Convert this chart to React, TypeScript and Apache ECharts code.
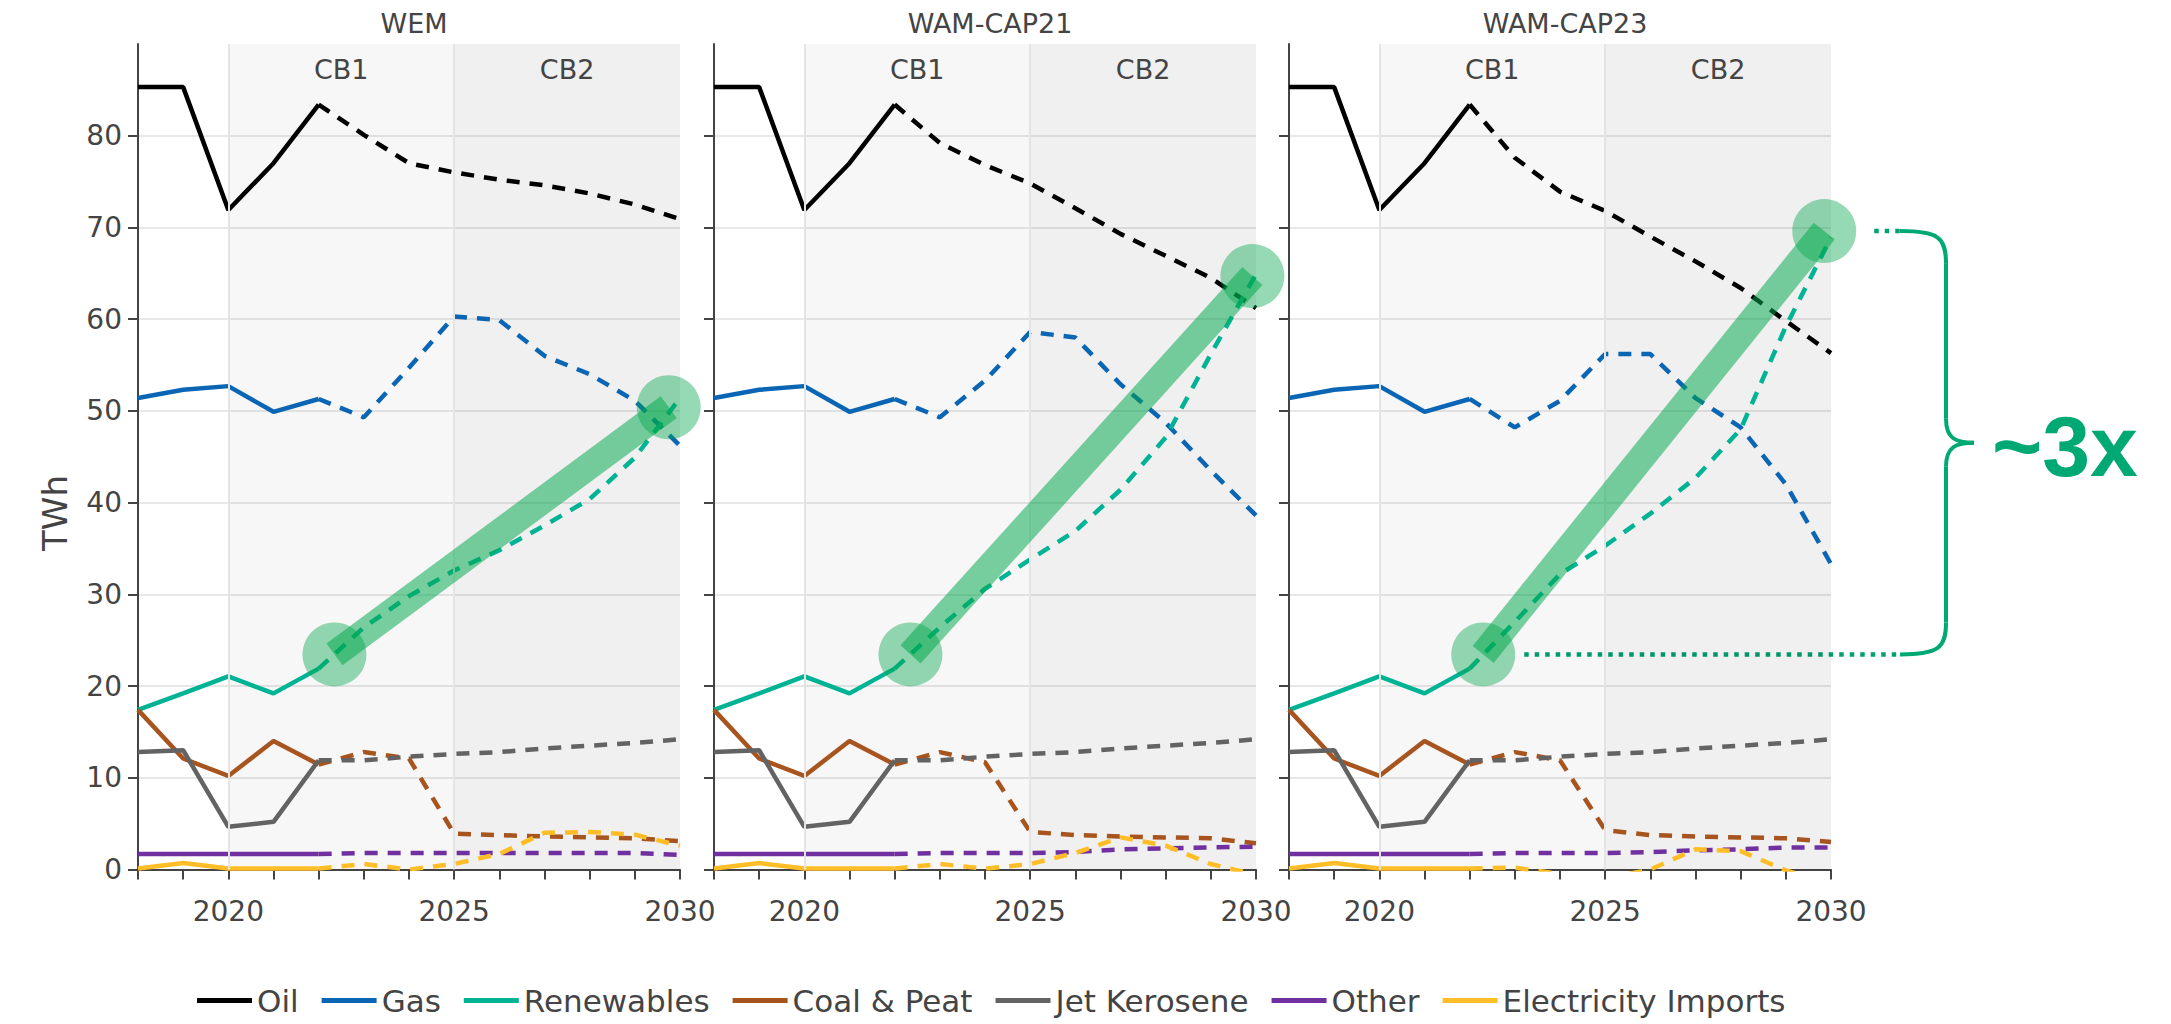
import React, { useEffect, useRef } from 'react';
import * as echarts from 'echarts';

// ---------- DATA ----------
const panelTitles = ['WEM', 'WAM-CAP21', 'WAM-CAP23'];
const fuels = ['Oil', 'Gas', 'Renewables', 'Coal & Peat', 'Jet Kerosene', 'Other', 'Electricity Imports'];
const fuelColors = ['#000000', '#0a66b4', '#00b394', '#a8541f', '#636363', '#7030a0', '#ffbe28'];

const histYears = [2018, 2019, 2020, 2021, 2022];
const projYears = [2022, 2023, 2024, 2025, 2026, 2027, 2028, 2029, 2030];

// historical (identical in all scenarios)
const oilHist = [85.3, 85.3, 71.9, 77.0, 83.4];
const gasHist = [51.4, 52.3, 52.7, 49.9, 51.3];
const renewablesHist = [17.4, 19.2, 21.05, 19.2, 21.9];
const coalHist = [17.4, 12.1, 10.2, 14.0, 11.45];
const jetHist = [12.8, 13.0, 4.65, 5.2, 11.9];
const otherHist = [1.7, 1.7, 1.7, 1.7, 1.7];
const importsHist = [0.1, 0.7, 0.1, 0.1, 0.1];

// projections 2022..2030 — WEM
const oilWEM = [83.4, 80.1, 77.0, 76.0, 75.2, 74.6, 73.7, 72.5, 70.9];
const gasWEM = [51.3, 49.3, 54.7, 60.3, 59.9, 56.0, 54.0, 51.1, 46.2];
const renewablesWEM = [21.9, 26.4, 29.8, 32.6, 34.8, 37.5, 40.4, 44.9, 51.4];
const coalWEM = [11.45, 12.8, 12.1, 3.9, 3.75, 3.6, 3.5, 3.4, 3.1];
const jetWEM = [11.9, 11.9, 12.3, 12.6, 12.8, 13.2, 13.5, 13.8, 14.2];
const otherWEM = [1.7, 1.8, 1.8, 1.8, 1.8, 1.8, 1.8, 1.8, 1.6];
const importsWEM = [0.1, 0.6, 0.0, 0.6, 1.7, 4.0, 4.1, 3.8, 2.6];

// projections — WAM-CAP21
const oilCAP21 = [83.4, 79.2, 76.8, 74.8, 72.1, 69.3, 66.9, 64.5, 61.2];
const gasCAP21 = [51.3, 49.3, 53.3, 58.6, 58.0, 52.9, 48.7, 43.5, 38.6];
const renewablesCAP21 = [21.9, 26.4, 30.6, 33.8, 36.9, 41.4, 47.1, 56.2, 64.9];
const coalCAP21 = [11.45, 12.8, 11.7, 4.1, 3.75, 3.6, 3.5, 3.4, 2.85];
const jetCAP21 = [11.9, 11.9, 12.3, 12.6, 12.8, 13.2, 13.5, 13.8, 14.2];
const otherCAP21 = [1.7, 1.8, 1.8, 1.8, 1.9, 2.2, 2.3, 2.4, 2.5];
const importsCAP21 = [0.1, 0.6, 0.1, 0.6, 1.8, 3.5, 2.6, 0.6, -0.6];

// projections — WAM-CAP23
const oilCAP23 = [83.4, 77.6, 73.9, 71.8, 69.0, 66.3, 63.4, 59.8, 56.3];
const gasCAP23 = [51.3, 48.2, 51.1, 56.2, 56.2, 51.4, 48.2, 42.0, 33.3];
const renewablesCAP23 = [21.9, 27.0, 32.2, 35.3, 38.8, 42.7, 48.0, 59.2, 68.9];
const coalCAP23 = [11.45, 12.8, 11.9, 4.3, 3.75, 3.6, 3.5, 3.4, 3.0];
const jetCAP23 = [11.9, 11.9, 12.3, 12.6, 12.8, 13.2, 13.5, 13.8, 14.2];
const otherCAP23 = [1.7, 1.8, 1.8, 1.8, 1.9, 2.1, 2.2, 2.4, 2.4];
const importsCAP23 = [0.1, 0.2, -0.5, -1.0, 0.0, 2.2, 2.0, -0.1, -1.5];

// carbon budget periods
const budgetNames = ['CB1', 'CB2'];
const budgetStart = [2020, 2025];
const budgetEnd = [2025, 2030];

// highlighted renewables growth (circle centres)
const highlightStartX = [2022.35, 2022.35, 2022.3];
const highlightStartY = [23.45, 23.45, 23.45];
const highlightEndX = [2029.75, 2029.92, 2029.85];
const highlightEndY = [50.4, 64.7, 69.6];
const growthLabel = '~3x';
const yAxisTitle = 'TWh';

const xLabelYears = [2020, 2025, 2030];
const yTickValues = [0, 10, 20, 30, 40, 50, 60, 70, 80];

// ---------- LAYOUT / STYLE ----------
const FONT = '"DejaVu Sans", Verdana, sans-serif';
const TEXT = '#444444';
const gridLefts = [138, 714, 1289];
const gridWidth = 542;
const gridTop = 44;
const gridBottom = 154.5;
const hlColor = 'rgba(0,167,75,0.52)';
const annotColor = '#00a874';
const LINE_W = 4.5;

const histData = [oilHist, gasHist, renewablesHist, coalHist, jetHist, otherHist, importsHist];
const projData = [
  [oilWEM, gasWEM, renewablesWEM, coalWEM, jetWEM, otherWEM, importsWEM],
  [oilCAP21, gasCAP21, renewablesCAP21, coalCAP21, jetCAP21, otherCAP21, importsCAP21],
  [oilCAP23, gasCAP23, renewablesCAP23, coalCAP23, jetCAP23, otherCAP23, importsCAP23],
];

function buildOption(): any {
  const grids: any[] = [];
  const xAxes: any[] = [];
  const yAxes: any[] = [];
  const series: any[] = [];
  const titles: any[] = [];

  panelTitles.forEach((title, p) => {
    grids.push({ left: gridLefts[p], width: gridWidth, top: gridTop, bottom: gridBottom, containLabel: false });
    titles.push({
      text: title,
      left: gridLefts[p] + gridWidth / 2,
      top: 5,
      textAlign: 'center',
      textStyle: { fontSize: 27, fontWeight: 'normal', color: TEXT, fontFamily: FONT },
    });
    xAxes.push({
      gridIndex: p,
      type: 'value',
      min: 2018,
      max: 2030,
      interval: 1,
      axisLine: { show: true, lineStyle: { color: TEXT, width: 2 } },
      axisTick: { show: true, inside: false, length: 10, lineStyle: { color: TEXT, width: 2 } },
      axisLabel: {
        show: true,
        margin: 28,
        fontSize: 28,
        color: TEXT,
        fontFamily: FONT,
        showMinLabel: true,
        showMaxLabel: true,
        formatter: (v: number) => (xLabelYears.indexOf(v) >= 0 ? String(v) : ''),
      },
      splitLine: { show: false },
    });
    yAxes.push({
      gridIndex: p,
      type: 'value',
      min: 0,
      max: 90,
      interval: 10,
      axisLine: { show: true, lineStyle: { color: TEXT, width: 2 } },
      axisTick: { show: true, inside: false, length: 10, customValues: yTickValues, lineStyle: { color: TEXT, width: 2 } },
      axisLabel: {
        show: p === 0,
        margin: 16,
        fontSize: 28,
        color: TEXT,
        fontFamily: FONT,
        customValues: yTickValues,
        formatter: (v: number) => (v > 80 ? '' : String(v)),
      },
      splitLine: { show: true, lineStyle: { color: '#e8e8e8', width: 2 } },
    });

    // background: carbon budget shading + boundaries
    series.push({
      type: 'line',
      xAxisIndex: p,
      yAxisIndex: p,
      data: [],
      silent: true,
      z: 1,
      markArea: {
        silent: true,
        label: { show: true, position: 'insideTop', distance: 12, fontSize: 27, color: TEXT, fontFamily: FONT },
        data: budgetNames.map((n, i) => [
          { name: n, xAxis: budgetStart[i], itemStyle: { color: i === 0 ? 'rgba(0,0,0,0.03)' : 'rgba(0,0,0,0.058)' } },
          { xAxis: budgetEnd[i] },
        ]),
      },
      markLine: {
        silent: true,
        symbol: 'none',
        label: { show: false },
        lineStyle: { color: '#e4e4e4', type: 'solid', width: 2 },
        data: budgetStart.map((x) => ({ xAxis: x })),
      },
    });

    fuels.forEach((name, f) => {
      series.push({
        name,
        type: 'line',
        xAxisIndex: p,
        yAxisIndex: p,
        data: histYears.map((yr, i) => [yr, histData[f][i]]),
        symbol: 'none',
        showSymbol: false,
        color: fuelColors[f],
        lineStyle: { color: fuelColors[f], width: LINE_W },
        z: 3,
      });
      series.push({
        name,
        type: 'line',
        xAxisIndex: p,
        yAxisIndex: p,
        data: projYears.map((yr, i) => [yr, projData[p][f][i]]),
        symbol: 'none',
        showSymbol: false,
        color: fuelColors[f],
        lineStyle: { color: fuelColors[f], width: LINE_W, type: [13, 10] },
        z: 3,
      });
    });

    // highlight band + circles
    series.push({
      type: 'line',
      xAxisIndex: p,
      yAxisIndex: p,
      data: [
        [highlightStartX[p], highlightStartY[p]],
        [highlightEndX[p], highlightEndY[p]],
      ],
      symbol: 'none',
      clip: false,
      silent: true,
      lineStyle: { color: hlColor, width: 27, cap: 'butt' },
      z: 10,
    });
    series.push({
      type: 'scatter',
      xAxisIndex: p,
      yAxisIndex: p,
      data: [
        [highlightStartX[p], highlightStartY[p]],
        [highlightEndX[p], highlightEndY[p]],
      ],
      symbol: 'circle',
      symbolSize: 64,
      clip: false,
      silent: true,
      itemStyle: { color: hlColor },
      z: 11,
    });
  });

  return {
    animation: false,
    backgroundColor: '#ffffff',
    textStyle: { fontFamily: FONT },
    title: titles,
    legend: {
      data: fuels,
      left: 192,
      top: 980,
      icon: 'rect',
      itemWidth: 55,
      itemHeight: 5,
      itemGap: 23,
      textStyle: { fontSize: 31, color: TEXT, fontFamily: FONT },
    },
    grid: grids,
    xAxis: xAxes,
    yAxis: yAxes,
    series,
  };
}

export default function App() {
  const ref = useRef<HTMLDivElement>(null);
  useEffect(() => {
    if (!ref.current) return;
    const chart = echarts.init(ref.current, null, { renderer: 'svg' });
    chart.setOption(buildOption());

    // annotation: dotted guides, brace and ratio label derived from last panel's circles
    const p = 2;
    const s = chart.convertToPixel({ gridIndex: p }, [highlightStartX[p], highlightStartY[p]]) as number[];
    const e = chart.convertToPixel({ gridIndex: p }, [highlightEndX[p], highlightEndY[p]]) as number[];
    const r = 32;
    const x0 = 1900;
    const spine = 1946;
    const tip = 1974;
    const midY = (s[1] + e[1]) / 2;
    const stroke = { stroke: annotColor, lineWidth: 4, fill: null };
    const dotted = { stroke: '#00a070', lineWidth: 4.5, lineDash: [4.5, 6], fill: null };
    chart.setOption({
      graphic: [
        {
          type: 'text', silent: true, x: 55, y: 513, rotation: Math.PI / 2,
          style: {
            text: yAxisTitle, fill: TEXT, fontSize: 34, fontFamily: FONT,
            align: 'center', textAlign: 'center', verticalAlign: 'middle', textVerticalAlign: 'middle',
          },
        },
        { type: 'line', silent: true, shape: { x1: e[0] + r + 18, y1: e[1], x2: x0, y2: e[1] }, style: dotted },
        { type: 'line', silent: true, shape: { x1: s[0] + r + 9, y1: s[1], x2: x0, y2: s[1] }, style: dotted },
        {
          type: 'bezierCurve', silent: true,
          shape: { x1: x0, y1: e[1], cpx1: spine - 8, cpy1: e[1], cpx2: spine, cpy2: e[1] + 6, x2: spine, y2: e[1] + 32 },
          style: stroke,
        },
        { type: 'line', silent: true, shape: { x1: spine, y1: e[1] + 32, x2: spine, y2: midY - 24 }, style: stroke },
        {
          type: 'bezierCurve', silent: true,
          shape: { x1: spine, y1: midY - 24, cpx1: spine, cpy1: midY - 4, cpx2: spine + 10, cpy2: midY, x2: tip, y2: midY },
          style: stroke,
        },
        {
          type: 'bezierCurve', silent: true,
          shape: { x1: tip, y1: midY, cpx1: spine + 10, cpy1: midY, cpx2: spine, cpy2: midY + 4, x2: spine, y2: midY + 24 },
          style: stroke,
        },
        { type: 'line', silent: true, shape: { x1: spine, y1: midY + 24, x2: spine, y2: s[1] - 32 }, style: stroke },
        {
          type: 'bezierCurve', silent: true,
          shape: { x1: spine, y1: s[1] - 32, cpx1: spine, cpy1: s[1] - 6, cpx2: spine - 8, cpy2: s[1], x2: x0, y2: s[1] },
          style: stroke,
        },
        {
          type: 'text', silent: true, x: 1992, y: midY + 3,
          style: {
            text: growthLabel,
            fill: annotColor,
            fontSize: 86,
            fontWeight: 'bold',
            fontFamily: '"Liberation Sans", Arial, sans-serif',
            verticalAlign: 'middle',
            textVerticalAlign: 'middle',
          },
        },
      ],
    });
    return () => chart.dispose();
  }, []);
  return (
    <div
      ref={ref}
      style={{ position: 'fixed', left: 0, top: 0, width: 2171, height: 1024, background: '#ffffff' }}
    />
  );
}
